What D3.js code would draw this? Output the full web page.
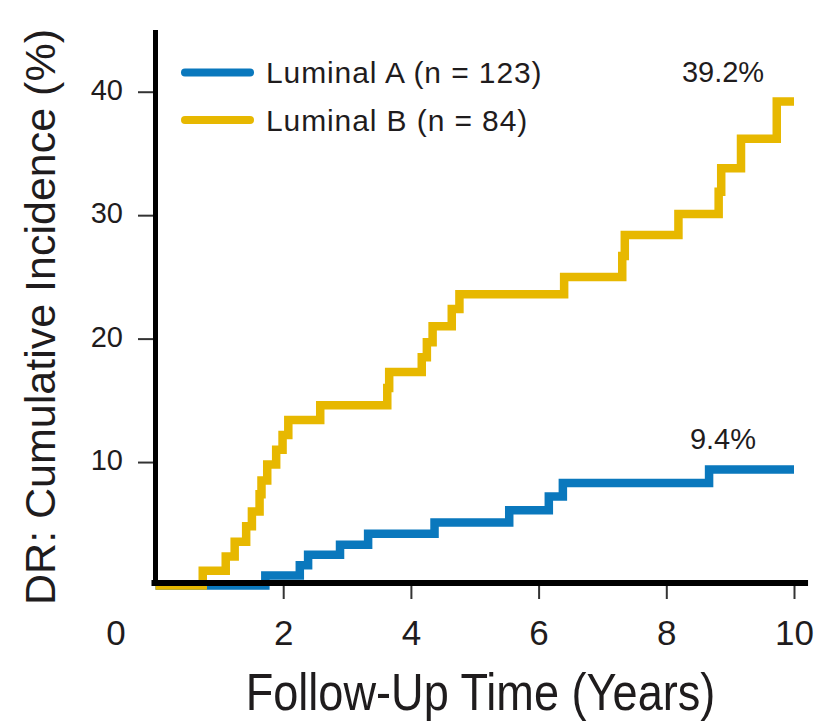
<!DOCTYPE html>
<html>
<head>
<meta charset="utf-8">
<script src="https://cdn.jsdelivr.net/npm/d3@7"></script>
<style>
  html, body { margin: 0; padding: 0; background: #ffffff; }
  svg { display: block; }
  text { fill: #1f1c1d; }
</style>
</head>
<body>
<svg id="chart" width="825" height="721"></svg>
<script>
// Distant recurrence: cumulative incidence (%) by follow-up time (years)
const xTickValues = [0, 2, 4, 6, 8, 10];
const yTickValues = [10, 20, 30, 40];

const seriesNames = ["Luminal A (n = 123)", "Luminal B (n = 84)"];
const seriesColors = ["#0a78bd", "#e7b800"];

const lumATimes  = [0, 1.72, 2.26, 2.39, 2.89, 3.33, 4.37, 5.54, 6.16, 6.38, 8.67, 10.0];
const lumAValues = [0, 0.8, 1.65, 2.5, 3.3, 4.2, 5.1, 6.1, 7.2, 8.3, 9.4, 9.4];

const lumBTimes  = [0, 0.74, 1.10, 1.24, 1.42, 1.51, 1.63, 1.66, 1.75, 1.89, 1.99, 2.08, 2.58,
                    3.63, 3.66, 4.17, 4.25, 4.34, 4.64, 4.76, 6.40, 7.31, 7.35, 8.19, 8.82,
                    8.86, 9.17, 9.73, 10.0];
const lumBValues = [0, 1.2, 2.35, 3.55, 4.8, 6.0, 7.4, 8.5, 9.8, 11.0, 12.2, 13.4, 14.6,
                    16.0, 17.3, 18.5, 19.7, 21.0, 22.4, 23.6, 25.0, 26.7, 28.4, 30.1, 31.9,
                    33.8, 36.2, 39.2, 39.2];

const endLabels = ["9.4%", "39.2%"];

const svg = d3.select("#chart");

const x = d3.scaleLinear().domain([0, 10]).range([155.5, 794]);
const y = d3.scaleLinear().domain([0, 45]).range([585.5, 30]);

const series = [
  { name: seriesNames[0], color: seriesColors[0], times: lumATimes, values: lumAValues, label: endLabels[0] },
  { name: seriesNames[1], color: seriesColors[1], times: lumBTimes, values: lumBValues, label: endLabels[1] }
];

// step curves (A underneath B)
const line = d3.line()
  .x(d => x(d[0]))
  .y(d => y(d[1]))
  .curve(d3.curveStepAfter);

svg.append("g").selectAll("path")
  .data(series)
  .join("path")
  .attr("d", s => line(s.times.map((t, i) => [t, s.values[i]])))
  .attr("fill", "none")
  .attr("stroke", s => s.color)
  .attr("stroke-width", 8.5)
  .attr("stroke-linejoin", "miter")
  .attr("stroke-linecap", "butt");

// end-of-follow-up labels
svg.append("g").selectAll("text")
  .data(series)
  .join("text")
  .attr("x", s => x(s.times[s.times.length - 1]) - 71)
  .attr("y", s => y(s.values[s.values.length - 1]) - 20)
  .attr("text-anchor", "middle")
  .style("font-family", "'Liberation Sans', Arial, sans-serif")
  .style("font-size", "29px")
  .text(s => s.label);

// x axis
const xAxis = d3.axisBottom(x)
  .tickValues(xTickValues)
  .tickSize(13)
  .tickSizeOuter(0)
  .tickFormat(d3.format("d"));

const gx = svg.append("g")
  .attr("transform", "translate(0,586)")
  .call(xAxis);
gx.select(".domain").remove();
gx.selectAll(".tick line").attr("stroke", "#333").attr("stroke-width", 2);
gx.selectAll(".tick text")
  .attr("y", 59)
  .attr("dy", 0)
  .style("font-family", "'Liberation Sans', Arial, sans-serif")
  .style("font-size", "35px")
  .style("fill", "#1f1c1d");
// origin label sits left of the corner, without a tick mark
const originTick = gx.selectAll(".tick").filter(d => d === 0);
originTick.select("line").remove();
originTick.select("text").attr("x", -40);

// y axis
const yAxis = d3.axisLeft(y)
  .tickValues(yTickValues)
  .tickSize(15)
  .tickSizeOuter(0);

const gy = svg.append("g")
  .attr("transform", "translate(153,0)")
  .call(yAxis);
gy.select(".domain").remove();
gy.selectAll(".tick line").attr("stroke", "#333").attr("stroke-width", 2);
gy.selectAll(".tick text")
  .attr("x", -30)
  .attr("dy", 0)
  .attr("y", 7.6)
  .style("font-family", "'Liberation Sans', Arial, sans-serif")
  .style("font-size", "29px")
  .style("fill", "#1f1c1d");

// heavy axis lines
svg.append("line")
  .attr("x1", x(0) - 4).attr("x2", x(10.22))
  .attr("y1", 583).attr("y2", 583)
  .attr("stroke", "#000").attr("stroke-width", 6);
svg.append("line")
  .attr("x1", x(0)).attr("x2", x(0))
  .attr("y1", y(45)).attr("y2", 586)
  .attr("stroke", "#000").attr("stroke-width", 5);

// axis titles (x title set in a condensed width)
svg.append("text")
  .attr("transform", "translate(480.5,710) scale(0.868,1)")
  .attr("text-anchor", "middle")
  .style("font-family", "'Liberation Sans', Arial, sans-serif")
  .style("font-size", "52px")
  .text("Follow-Up Time (Years)");

svg.append("text")
  .attr("transform", "translate(55,317) rotate(-90)")
  .attr("text-anchor", "middle")
  .style("font-family", "'Liberation Sans', Arial, sans-serif")
  .style("font-size", "43px")
  .text("DR: Cumulative Incidence (%)");

// legend
const legend = svg.append("g");
const legendRows = legend.selectAll("g")
  .data(series)
  .join("g")
  .attr("transform", (s, i) => `translate(0,${72.5 + i * 47.5})`);
legendRows.append("line")
  .attr("x1", 185).attr("x2", 250)
  .attr("y1", 0).attr("y2", 0)
  .attr("stroke", s => s.color)
  .attr("stroke-width", 8)
  .attr("stroke-linecap", "round");
legendRows.append("text")
  .attr("x", 266)
  .attr("y", 10.5)
  .style("font-family", "'Liberation Sans', Arial, sans-serif")
  .style("font-size", "30px")
  .style("letter-spacing", "0.9px")
  .text(s => s.name);
</script>
</body>
</html>
